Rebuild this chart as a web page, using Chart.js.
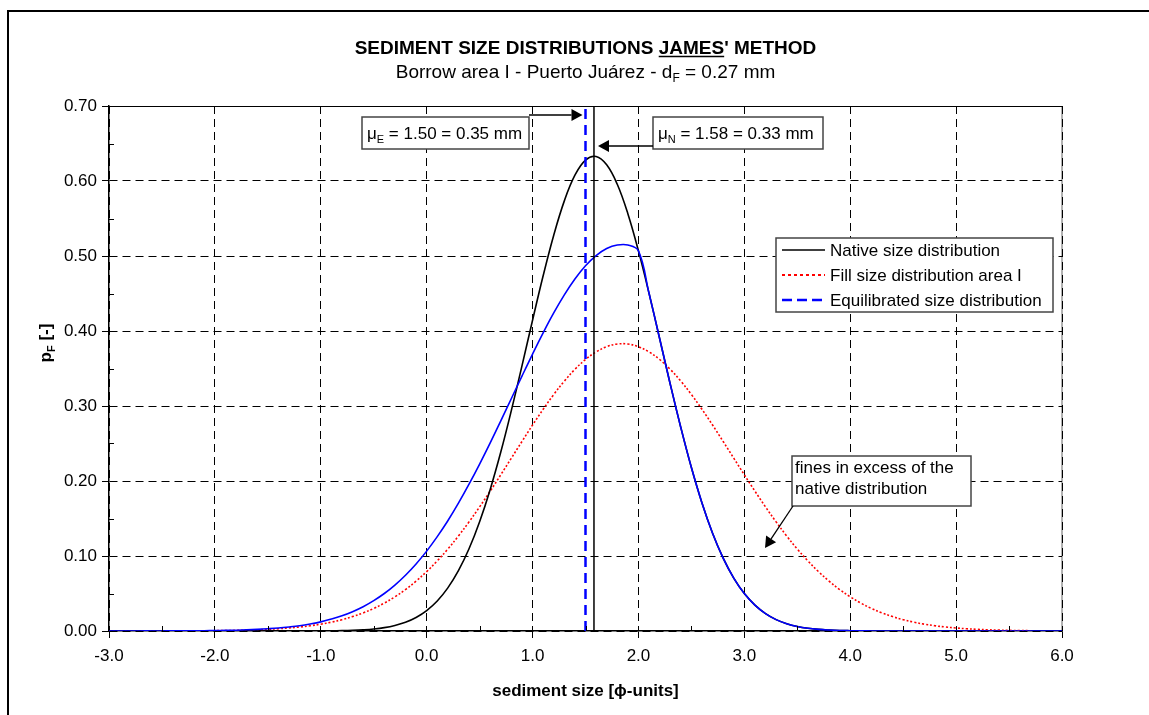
<!DOCTYPE html>
<html>
<head>
<meta charset="utf-8">
<script src="https://cdn.jsdelivr.net/npm/chart.js@4.4.1/dist/chart.umd.min.js"></script>
<style>
html, body { margin: 0; padding: 0; background: #fff; }
#kutu { position: relative; width: 1149px; height: 715px; }
</style>
</head>
<body>
<div id="kutu"><canvas id="grafik" width="1149" height="715"></canvas></div>
<script>
// x ekseni: sediment size [phi]
const xDegerleri = [
  -3.0, -2.9, -2.8, -2.7, -2.6, -2.5, -2.4, -2.3, -2.2, -2.1,
  -2.0, -1.9, -1.8, -1.7, -1.6, -1.5, -1.4, -1.3, -1.2, -1.1,
  -1.0, -0.9, -0.8, -0.7, -0.6, -0.5, -0.4, -0.3, -0.2, -0.1,
  0.0, 0.1, 0.2, 0.3, 0.4, 0.5, 0.6, 0.7, 0.8, 0.9,
  1.0, 1.1, 1.2, 1.3, 1.4, 1.5, 1.6, 1.7, 1.8, 1.9,
  2.0, 2.1, 2.2, 2.3, 2.4, 2.5, 2.6, 2.7, 2.8, 2.9,
  3.0, 3.1, 3.2, 3.3, 3.4, 3.5, 3.6, 3.7, 3.8, 3.9,
  4.0, 4.1, 4.2, 4.3, 4.4, 4.5, 4.6, 4.7, 4.8, 4.9,
  5.0, 5.1, 5.2, 5.3, 5.4, 5.5, 5.6, 5.7, 5.8, 5.9,
  6.0
];

// Native size distribution (siyah)
const dogalDagilim = [
  0, 0, 0, 0, 0, 0, 0, 0, 0, 0,
  0, 0, 0, 0, 0, 0, 0, 0, 0.0000, 0.0001,
  0.0001, 0.0003, 0.0005, 0.0009, 0.0016, 0.0027, 0.0045, 0.0074, 0.0117, 0.0181,
  0.0273, 0.0401, 0.0575, 0.0804, 0.1096, 0.1457, 0.1888, 0.2386, 0.2942, 0.3535,
  0.4144, 0.4736, 0.5277, 0.5735, 0.6077, 0.6279, 0.6327, 0.6216, 0.5956, 0.5564,
  0.5068, 0.4503, 0.3900, 0.3294, 0.2714, 0.2179, 0.1707, 0.1303, 0.0971, 0.0705,
  0.0499, 0.0345, 0.0232, 0.0152, 0.0098, 0.0061, 0.0037, 0.0022, 0.0013, 0.0007,
  0.0004, 0.0002, 0.0001, null, null, null, null, null, null, null,
  null, null, null, null, null, null, null, null, null, null,
  null
];

// Fill size distribution area I (kırmızı)
const dolguDagilim = [
  0, 0, 0, 0.0001, 0.0001, 0.0001, 0.0001, 0.0002, 0.0002, 0.0003,
  0.0004, 0.0006, 0.0008, 0.0012, 0.0016, 0.0022, 0.0030, 0.0040, 0.0053, 0.0070,
  0.0091, 0.0118, 0.0151, 0.0192, 0.0241, 0.0301, 0.0372, 0.0456, 0.0553, 0.0665,
  0.0792, 0.0935, 0.1093, 0.1267, 0.1455, 0.1655, 0.1865, 0.2083, 0.2305, 0.2527,
  0.2746, 0.2956, 0.3153, 0.3332, 0.3489, 0.3620, 0.3721, 0.3791, 0.3826, 0.3826,
  0.3791, 0.3721, 0.3620, 0.3489, 0.3332, 0.3153, 0.2956, 0.2746, 0.2527, 0.2305,
  0.2083, 0.1865, 0.1655, 0.1455, 0.1267, 0.1093, 0.0935, 0.0792, 0.0665, 0.0553,
  0.0456, 0.0372, 0.0301, 0.0241, 0.0192, 0.0151, 0.0118, 0.0091, 0.0070, 0.0053,
  0.0040, 0.0030, 0.0022, 0.0016, 0.0012, 0.0008, 0.0006, 0.0004, null, null,
  null
];

// Equilibrated size distribution (mavi)
const dengeDagilim = [
  0, 0, 0, 0.0001, 0.0001, 0.0001, 0.0002, 0.0002, 0.0003, 0.0004,
  0.0005, 0.0008, 0.0011, 0.0016, 0.0022, 0.0030, 0.0040, 0.0054, 0.0071, 0.0094,
  0.0122, 0.0159, 0.0203, 0.0258, 0.0324, 0.0405, 0.0500, 0.0613, 0.0744, 0.0894,
  0.1065, 0.1258, 0.1470, 0.1704, 0.1957, 0.2226, 0.2508, 0.2802, 0.3100, 0.3399,
  0.3693, 0.3976, 0.4241, 0.4482, 0.4693, 0.4869, 0.5005, 0.5099, 0.5146, 0.5146,
  0.5068, 0.4503, 0.3900, 0.3294, 0.2714, 0.2179, 0.1707, 0.1303, 0.0971, 0.0705,
  0.0499, 0.0345, 0.0232, 0.0152, 0.0098, 0.0061, 0.0037, 0.0022, 0.0013, 0.0007,
  0.0004, 0.0002, 0.0001, 0, 0, 0, 0, 0, 0, 0,
  0, 0, 0, 0, 0, 0, 0, 0, 0, 0,
  0
];

const ortalamaE = 1.50;   // mu_E
const ortalamaN = 1.58;   // mu_N
const yMin = 0.00, yMax = 0.70, yAdim = 0.10;
const xMin = -3.0, xMax = 6.0, xAdim = 1.0;

const yaziAilesi = "'Liberation Sans', Arial, Helvetica, sans-serif";

const noktala = (dizi) => xDegerleri.map((x, i) => ({ x: x, y: dizi[i] }));

// alt indisli yazı
function parcaliYaz(ctx, parcalar, x, y, boyut, kalin, hiza) {
  const agirlik = kalin ? 'bold ' : '';
  const fontAna = agirlik + boyut + 'px ' + yaziAilesi;
  const fontAlt = agirlik + Math.round(boyut * 0.62) + 'px ' + yaziAilesi;
  let toplam = 0;
  parcalar.forEach(p => {
    ctx.font = p.alt ? fontAlt : fontAna;
    p.w = ctx.measureText(p.t).width;
    toplam += p.w;
  });
  let bx = hiza === 'center' ? x - toplam / 2 : x;
  ctx.textAlign = 'left';
  ctx.textBaseline = 'alphabetic';
  parcalar.forEach(p => {
    ctx.font = p.alt ? fontAlt : fontAna;
    ctx.fillText(p.t, bx, p.alt ? y + boyut * 0.22 : y);
    if (p.cizgi) {
      ctx.save();
      ctx.lineWidth = 1.5;
      ctx.strokeStyle = ctx.fillStyle;
      ctx.beginPath();
      ctx.moveTo(bx, y + 2.5);
      ctx.lineTo(bx + p.w, y + 2.5);
      ctx.stroke();
      ctx.restore();
    }
    bx += p.w;
  });
}

function okCiz(ctx, x1, y1, x2, y2) {
  const aci = Math.atan2(y2 - y1, x2 - x1);
  const L = 11, W = 6;
  const c = Math.cos(aci), s = Math.sin(aci);
  ctx.beginPath();
  ctx.moveTo(x1, y1);
  ctx.lineTo(x2 - L * c, y2 - L * s);
  ctx.stroke();
  ctx.beginPath();
  ctx.moveTo(x2, y2);
  ctx.lineTo(x2 - L * c + W * s, y2 - L * s - W * c);
  ctx.lineTo(x2 - L * c - W * s, y2 - L * s + W * c);
  ctx.closePath();
  ctx.fill();
}

function kutuCiz(ctx, x, y, w, h) {
  ctx.fillStyle = '#fff';
  ctx.fillRect(x, y, w, h);
  ctx.strokeStyle = '#444';
  ctx.lineWidth = 1.5;
  ctx.strokeRect(x, y, w, h);
}

// başlıklar, kutular, lejant, ara çentikler
const suslemeEklentisi = {
  id: 'susleme',
  beforeDraw(chart) {
    const { ctx, chartArea } = chart;
    ctx.save();
    ctx.strokeStyle = '#999';
    ctx.lineWidth = 1.5;
    ctx.beginPath();
    ctx.moveTo(chartArea.right, chartArea.top);
    ctx.lineTo(chartArea.right, chartArea.bottom);
    ctx.stroke();
    ctx.restore();
  },
  afterDraw(chart) {
    const { ctx, chartArea } = chart;
    const xs = chart.scales.x, ys = chart.scales.y;
    ctx.save();

    // üst kenar
    ctx.strokeStyle = '#000';
    ctx.lineWidth = 1.2;
    ctx.beginPath();
    ctx.moveTo(chartArea.left, chartArea.top + 0.5);
    ctx.lineTo(chartArea.right, chartArea.top + 0.5);
    ctx.stroke();

    // ara çentikler
    ctx.lineWidth = 1;
    for (let v = yMin + yAdim / 2; v < yMax; v += yAdim) {
      const py = Math.round(ys.getPixelForValue(v)) + 0.5;
      ctx.beginPath();
      ctx.moveTo(chartArea.left, py);
      ctx.lineTo(chartArea.left + 5, py);
      ctx.stroke();
    }
    for (let v = xMin + xAdim / 2; v < xMax; v += xAdim) {
      const px = Math.round(xs.getPixelForValue(v)) + 0.5;
      ctx.beginPath();
      ctx.moveTo(px, chartArea.bottom);
      ctx.lineTo(px, chartArea.bottom - 5);
      ctx.stroke();
    }

    // başlık
    ctx.fillStyle = '#000';
    const ortaX = (chartArea.left + chartArea.right) / 2;
    parcaliYaz(ctx, [
      { t: 'SEDIMENT SIZE DISTRIBUTIONS ' },
      { t: 'JAMES', cizgi: true },
      { t: "' METHOD" }
    ], ortaX, 54, 19, true, 'center');
    parcaliYaz(ctx, [
      { t: 'Borrow area I - Puerto Juárez - d' },
      { t: 'F', alt: true },
      { t: ' = 0.27 mm' }
    ], ortaX, 78, 19, false, 'center');

    // eksen başlıkları
    parcaliYaz(ctx, [{ t: 'sediment size [ϕ-units]' }], ortaX, 696, 17, true, 'center');
    ctx.save();
    ctx.translate(46, 343);
    ctx.rotate(-Math.PI / 2);
    parcaliYaz(ctx, [{ t: 'p' }, { t: 'F', alt: true }, { t: ' [-]' }], 0, 5, 17, true, 'center');
    ctx.restore();

    // mu_E kutusu ve oku
    const pxE = xs.getPixelForValue(ortalamaE);
    const pxN = xs.getPixelForValue(ortalamaN);
    kutuCiz(ctx, 362, 117, 167, 32);
    ctx.fillStyle = '#000';
    parcaliYaz(ctx, [{ t: 'μ' }, { t: 'E', alt: true }, { t: ' = 1.50 = 0.35 mm' }], 367, 139, 17, false, 'left');
    ctx.strokeStyle = '#000';
    ctx.fillStyle = '#000';
    ctx.lineWidth = 1.5;
    okCiz(ctx, 529, 115, pxE - 3, 115);

    // mu_N kutusu ve oku
    kutuCiz(ctx, 653, 117, 170, 32);
    ctx.fillStyle = '#000';
    parcaliYaz(ctx, [{ t: 'μ' }, { t: 'N', alt: true }, { t: ' = 1.58 = 0.33 mm' }], 658, 139, 17, false, 'left');
    ctx.strokeStyle = '#000';
    ctx.lineWidth = 1.5;
    okCiz(ctx, 653, 146, pxN + 4, 146);

    // fines kutusu ve oku
    kutuCiz(ctx, 792, 456, 179, 50);
    ctx.fillStyle = '#000';
    parcaliYaz(ctx, [{ t: 'fines in excess of the' }], 795, 473, 17, false, 'left');
    parcaliYaz(ctx, [{ t: 'native distribution' }], 795, 494, 17, false, 'left');
    ctx.strokeStyle = '#000';
    ctx.lineWidth = 1.3;
    okCiz(ctx, 793, 506, 765, 548);

    // lejant
    kutuCiz(ctx, 776, 238, 277, 74);
    const satirlar = [
      { ad: 'Native size distribution', renk: '#000', kalinlik: 1.5, tire: [] },
      { ad: 'Fill size distribution area I', renk: '#ff0000', kalinlik: 2, tire: [3, 3] },
      { ad: 'Equilibrated size distribution', renk: '#0000ff', kalinlik: 2.5, tire: [10, 5] }
    ];
    satirlar.forEach((s, i) => {
      const yy = 250 + i * 25;
      ctx.strokeStyle = s.renk;
      ctx.lineWidth = s.kalinlik;
      ctx.setLineDash(s.tire);
      ctx.beginPath();
      ctx.moveTo(782, yy);
      ctx.lineTo(825, yy);
      ctx.stroke();
      ctx.setLineDash([]);
      ctx.fillStyle = '#000';
      parcaliYaz(ctx, [{ t: s.ad }], 830, yy + 6, 17, false, 'left');
    });

    // dış çerçeve
    ctx.strokeStyle = '#000';
    ctx.lineWidth = 2;
    ctx.strokeRect(8, 11, 1200, 800);
    ctx.restore();
  }
};

const ctx = document.getElementById('grafik');
const grafik = new Chart(ctx, {
  type: 'line',
  data: {
    datasets: [
      {
        label: 'Equilibrated size distribution',
        data: noktala(dengeDagilim),
        borderColor: '#0000ff',
        borderWidth: 1.6,
        pointRadius: 0,
        tension: 0.4,
        order: 1
      },
      {
        label: 'Native size distribution',
        data: noktala(dogalDagilim),
        borderColor: '#000000',
        borderWidth: 1.6,
        pointRadius: 0,
        tension: 0.4,
        order: 2
      },
      {
        label: 'Fill size distribution area I',
        data: noktala(dolguDagilim),
        borderColor: '#ff0000',
        borderWidth: 1.6,
        borderDash: [2, 2],
        pointRadius: 0,
        tension: 0.4,
        order: 3
      },
      {
        label: 'mu_E',
        data: [{ x: ortalamaE, y: yMin }, { x: ortalamaE, y: yMax }],
        borderColor: '#0000ff',
        borderWidth: 2.5,
        borderDash: [10, 6],
        pointRadius: 0,
        order: 0
      },
      {
        label: 'mu_N',
        data: [{ x: ortalamaN, y: yMin }, { x: ortalamaN, y: yMax }],
        borderColor: '#000000',
        borderWidth: 1.5,
        pointRadius: 0,
        order: 0
      }
    ]
  },
  options: {
    responsive: false,
    animation: false,
    devicePixelRatio: 1,
    layout: { padding: { left: 8, right: 87, top: 106, bottom: 0 } },
    plugins: {
      legend: { display: false },
      title: { display: false },
      tooltip: { enabled: false }
    },
    scales: {
      x: {
        type: 'linear',
        min: xMin,
        max: xMax,
        afterFit: (scale) => { scale.height = 84; },
        ticks: {
          stepSize: xAdim,
          color: '#000',
          padding: 8,
          maxRotation: 0,
          font: { family: yaziAilesi, size: 17 },
          callback: (v) => Number(v).toFixed(1)
        },
        grid: { color: '#000', lineWidth: 1, tickLength: 7, tickColor: '#000' },
        border: { display: true, color: '#000', width: 1.5, dash: [8, 5] }
      },
      y: {
        type: 'linear',
        min: yMin,
        max: yMax,
        afterFit: (scale) => { scale.width = 101; },
        ticks: {
          stepSize: yAdim,
          color: '#000',
          padding: 5,
          font: { family: yaziAilesi, size: 17 },
          callback: (v) => Number(v).toFixed(2)
        },
        grid: { color: '#000', lineWidth: 1, tickLength: 7, tickColor: '#000' },
        border: { display: true, color: '#000', width: 1.5, dash: [8, 5] }
      }
    }
  },
  plugins: [suslemeEklentisi]
});
</script>
</body>
</html>
